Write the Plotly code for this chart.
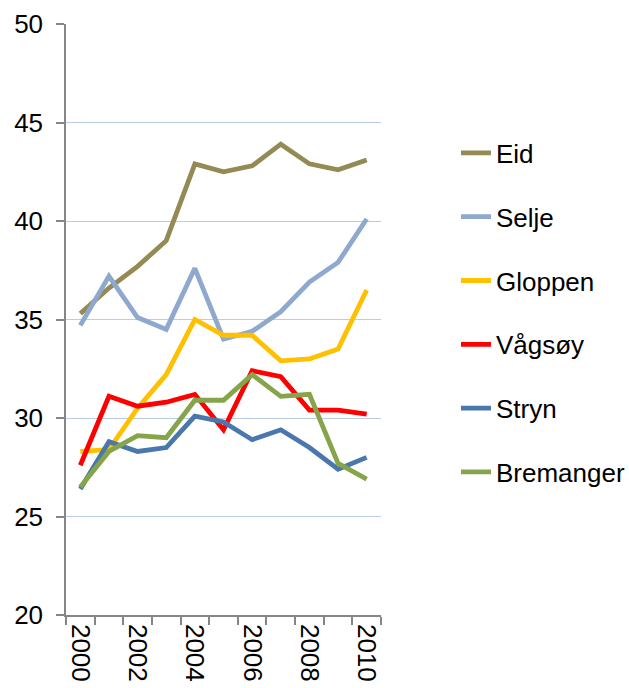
import plotly.graph_objects as go

years = list(range(2000, 2011))
eid = [35.3, 36.6, 37.7, 39.0, 42.9, 42.5, 42.8, 43.9, 42.9, 42.6, 43.1]
selje = [34.7, 37.2, 35.1, 34.5, 37.6, 34.0, 34.4, 35.4, 36.9, 37.9, 40.1]
gloppen = [28.3, 28.4, 30.5, 32.2, 35.0, 34.2, 34.2, 32.9, 33.0, 33.5, 36.5]
vagsoy = [27.6, 31.1, 30.6, 30.8, 31.2, 29.4, 32.4, 32.1, 30.4, 30.4, 30.2]
stryn = [26.4, 28.8, 28.3, 28.5, 30.1, 29.8, 28.9, 29.4, 28.5, 27.4, 28.0]
bremanger = [26.5, 28.3, 29.1, 29.0, 30.9, 30.9, 32.2, 31.1, 31.2, 27.7, 26.9]

series = [
    ("Eid", eid, "#948A54"),
    ("Selje", selje, "#8EA8CE"),
    ("Gloppen", gloppen, "#FFC000"),
    ("Vågsøy", vagsoy, "#FF0000"),
    ("Stryn", stryn, "#4A78AE"),
    ("Bremanger", bremanger, "#86A44A"),
]

y_ticks = [20, 25, 30, 35, 40, 45, 50]
x_labels = [2000, 2002, 2004, 2006, 2008, 2010]

fig = go.Figure()
for i, (name, vals, col) in enumerate(series):
    fig.add_trace(go.Scatter(
        x=years, y=vals, name=name, mode="lines",
        line=dict(color=col, width=4.8),
        legendgroup=f"g{i}",
    ))

font = "Liberation Sans, Arial, sans-serif"
fig.update_layout(
    width=629, height=688,
    margin=dict(l=66, r=248, t=24, b=73, autoexpand=False),
    paper_bgcolor="white", plot_bgcolor="white",
    font=dict(family=font, size=26, color="black"),
    showlegend=True,
    legend=dict(
        x=1.238, xanchor="left", y=0.8215, yanchor="top",
        font=dict(size=26), tracegroupgap=27,
        bgcolor="rgba(0,0,0,0)",
    ),
    xaxis=dict(
        range=[1999.5, 2010.5], automargin=False,
        tickvals=x_labels, ticktext=[str(v) for v in x_labels],
        tickangle=90, ticks="", showgrid=False, zeroline=False,
        showline=True, linecolor="#868686", linewidth=1.5,
        tickfont=dict(size=26),
        minor=dict(tickvals=[y - 0.5 for y in years] + [2010.5],
                   ticks="outside", ticklen=8, tickcolor="#868686", tickwidth=1.5,
                   showgrid=False),
        ticklabelstandoff=2,
    ),
    yaxis=dict(
        range=[20, 50], tickvals=y_ticks, automargin=False,
        showgrid=True, gridcolor="#B9CDE5", gridwidth=1.2,
        zeroline=False, showline=True, linecolor="#868686", linewidth=1.5,
        ticks="outside", ticklen=8, tickcolor="#868686", tickwidth=1.5,
        tickfont=dict(size=26), ticklabelstandoff=8,
    ),
)

fig.write_html(
    "out.html",
    config={"displayModeBar": False},
    post_script="document.body.style.margin='0';document.body.style.overflow='hidden';",
)
